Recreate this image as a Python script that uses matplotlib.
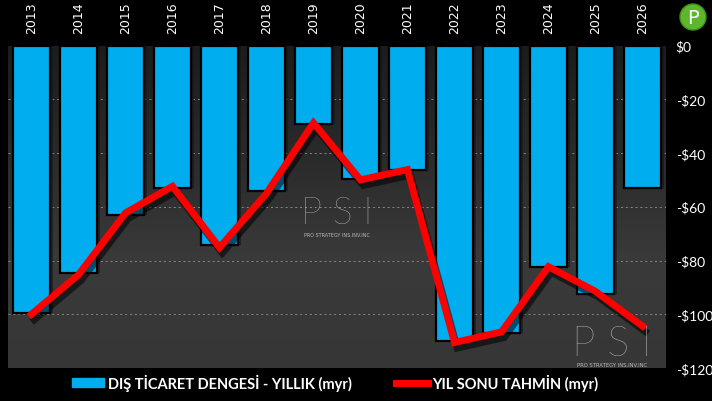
import numpy as np
import matplotlib
matplotlib.use("Agg")
import matplotlib.pyplot as plt
import matplotlib.patheffects as pe
from matplotlib.patches import Ellipse, Patch
from matplotlib.lines import Line2D
from matplotlib.colors import LinearSegmentedColormap

years = ["2013", "2014", "2015", "2016", "2017", "2018", "2019",
         "2020", "2021", "2022", "2023", "2024", "2025", "2026"]
trade_balance = [-99.7, -84.5, -63.0, -52.9, -74.4, -54.0, -29.3,
                 -49.6, -46.2, -110.1, -106.9, -82.5, -92.6, -52.9]
year_end_forecast = [-100.0, -85.3, -62.3, -52.4, -75.2, -55.0, -28.8,
                     -50.0, -46.2, -110.5, -106.6, -82.3, -91.5, -104.4]
y_ticks = [0, -20, -40, -60, -80, -100, -120]
y_tick_labels = ["$0", "-$20", "-$40", "-$60", "-$80", "-$100", "-$120"]
legend_labels = ["DIŞ TİCARET DENGESİ - YILLIK (myr)", "YIL SONU TAHMİN (myr)"]

BLUE = "#00adef"
RED = "#ff0000"

fig = plt.figure(figsize=(7.12, 4.02), dpi=100, facecolor="black")
ax = fig.add_axes([8/712, 1-369/402, (666-8)/712, (369-46.5)/402])
ax.set_facecolor("#353535")

grad = np.linspace(0, 1, 256).reshape(-1, 1)
cmap = LinearSegmentedColormap.from_list("bg", ["#1c1c1c", "#2a2a2a", "#3a3a3a", "#363636"])
ax.imshow(grad, extent=(-0.5, 13.5, -120, 0), aspect="auto", cmap=cmap,
          origin="upper", zorder=0)

x = np.arange(len(years))
for yv in y_ticks[1:-1]:
    ax.axhline(yv, color="#8a8a8a", lw=0.7, ls=(0, (2, 3)), zorder=1)

ax.bar(x + 0.06, trade_balance, width=0.80, color="#151515", alpha=0.6, zorder=1.5)
ax.bar(x, trade_balance, width=0.78, color=BLUE, edgecolor="black", lw=1.6, zorder=2)

ax.plot(x, year_end_forecast, color=RED, lw=5, solid_joinstyle="miter", zorder=3,
        path_effects=[pe.SimpleLineShadow(offset=(2, -4), shadow_color="black", alpha=0.55),
                      pe.Normal()])

ax.set_xlim(-0.5, 13.5)
ax.set_ylim(-120, 0)
ax.set_yticks(y_ticks)
ax.set_yticklabels(y_tick_labels)
ax.yaxis.tick_right()
ax.tick_params(axis="y", colors="white", labelsize=10, length=0, pad=7)
ax.xaxis.tick_top()
ax.set_xticks(x)
ax.set_xticklabels(years, rotation=90)
ax.tick_params(axis="x", colors="white", labelsize=9, length=0, pad=9)
for lab in ax.get_yticklabels():
    lab.set_family("Lato")
for lab in ax.get_xticklabels() + ax.get_yticklabels():
    lab.set_color("white")
for s in ax.spines.values():
    s.set_visible(False)

# watermarks
ax.text(6.5, -62.5, "P S I", color="#d8d8d8", fontsize=27, family="Lato",
        fontweight="light", ha="center", va="center", zorder=4, alpha=0.9)
ax.text(6.5, -70.5, "PRO STRATEGY INS.INV.INC", color="#bbbbbb", fontsize=3.5,
        ha="center", va="center", zorder=4)
ax.text(12.35, -111, "P S I", color="#d8d8d8", fontsize=30, family="Lato",
        fontweight="light", ha="center", va="center", zorder=4, alpha=0.9)
ax.text(12.35, -118.6, "PRO STRATEGY INS.INV.INC", color="#bbbbbb", fontsize=3.8,
        ha="center", va="center", zorder=4)

# legend
handles = [Patch(facecolor=BLUE, edgecolor=BLUE),
           Line2D([0], [0], color=RED, lw=5)]
leg = fig.legend(handles, legend_labels, loc="center", bbox_to_anchor=(335/712, 1-383/402),
                 ncol=2, frameon=False, prop={"family": "Lato", "weight": "bold", "size": 10.5},
                 handlelength=2.2, handleheight=0.6, handletextpad=0.3, columnspacing=3.0)
for t in leg.get_texts():
    t.set_color("white")

fig.add_artist(Ellipse((693/712, 1-18/402), 26/712, 26/402, transform=fig.transFigure,
                       facecolor="#5cb82a", edgecolor="#3f8f1a", lw=1))
fig.text(693/712, 1-18/402, "P", color="white", fontsize=14, ha="center", va="center",
         family="DejaVu Sans")

fig.savefig("out.png", dpi=100, facecolor="black")
